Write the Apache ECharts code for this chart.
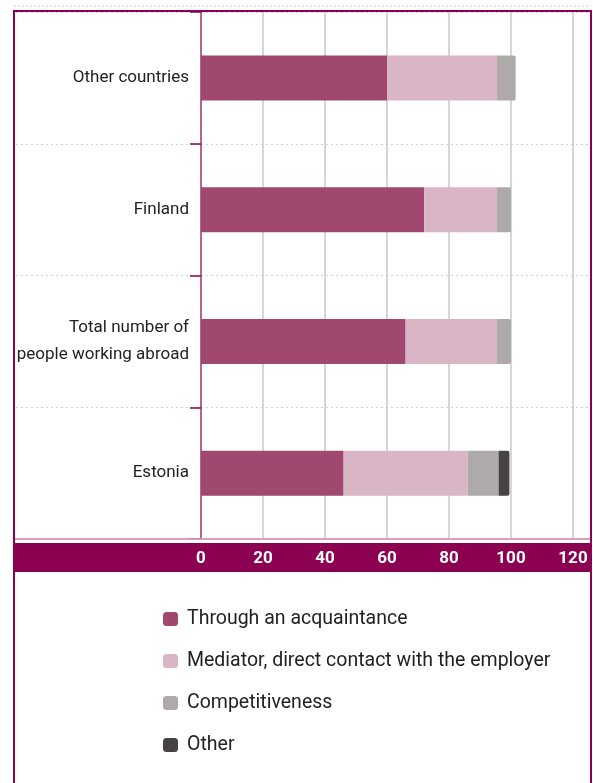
<!DOCTYPE html>
<html><head><meta charset="utf-8">
<script src="https://cdn.jsdelivr.net/npm/echarts@6/dist/echarts.min.js"></script>
<style>html,body{margin:0;padding:0;background:#fff}#c{width:593px;height:783px}</style>
</head><body><div id="c"></div>
<script>
const categories = ['Estonia', 'Total number of\npeople working abroad', 'Finland', 'Other countries'];
const seriesNames = ['Through an acquaintance', 'Mediator, direct contact with the employer', 'Competitiveness', 'Other'];
const acquaintance = [46, 66, 72, 60];
const mediator = [40, 29.5, 23.5, 35.5];
const competitiveness = [10, 4.5, 4.5, 6];
const other = [3.5, 0, 0, 0];
const xTicks = [0, 20, 40, 60, 80, 100, 120];

const colors = ['#a0486f', '#d9b5c6', '#aeaaaa', '#474344'];
const FONT = 'Roboto, sans-serif';
const PURPLE = '#8b0050';

const values = [acquaintance, mediator, competitiveness, other];
function lastIndex(ci) { let k = 0; values.forEach((v, i) => { if (v[ci] > 0) k = i; }); return k; }
const series = values.map((arr, si) => ({
  name: seriesNames[si], type: 'bar', stack: 'total', barWidth: 45,
  xAxisIndex: 0, yAxisIndex: 0,
  itemStyle: { color: colors[si] },
  data: arr.map((v, ci) => ({ value: v, itemStyle: { borderRadius: lastIndex(ci) === si ? [0, 2, 2, 0] : 0 } }))
}));

const chart = echarts.init(document.getElementById('c'), null, { renderer: 'canvas' });
chart.setOption({
  animation: false,
  textStyle: { fontFamily: FONT },
  grid: [
    { left: 201, right: 20, top: 12, bottom: 244, containLabel: false },
    { left: 16, right: 2, top: 12, bottom: 244, containLabel: false }
  ],
  xAxis: [
    { gridIndex: 0, type: 'value', min: xTicks[0], max: xTicks[xTicks.length - 1], interval: 20,
      axisLine: { show: false },
      axisTick: { show: false },
      axisLabel: { color: '#fff', fontWeight: 'bold', fontSize: 17, margin: 11, fontFamily: FONT },
      splitLine: { show: true, lineStyle: { color: '#c9c9c9', width: 1.5 } } },
    { gridIndex: 1, type: 'value', min: 0, max: 1, show: false }
  ],
  yAxis: [
    { gridIndex: 0, type: 'category', data: categories,
      axisLine: { show: true, lineStyle: { color: '#a8407a', width: 1.5 } },
      axisTick: { show: true, length: 11, lineStyle: { color: PURPLE, width: 1.5 } },
      axisLabel: { color: '#222', fontSize: 17, margin: 12, lineHeight: 27, fontFamily: FONT },
      splitLine: { show: false } },
    { gridIndex: 1, type: 'category', data: categories,
      axisLine: { show: false }, axisTick: { show: false }, axisLabel: { show: false },
      splitLine: { show: true, lineStyle: { color: '#cfcfcf', type: [2, 3], width: 1 } } }
  ],
  legend: {
    orient: 'vertical', left: 158, top: 604, itemGap: 22,
    itemWidth: 15, itemHeight: 14, icon: 'roundRect',
    textStyle: { color: '#222', fontSize: 19.5, fontFamily: FONT, padding: [0, 0, 0, 4] },
    data: seriesNames
  },
  graphic: [
    { type: 'line', z: 0, shape: { x1: 14, y1: 6, x2: 591, y2: 6 }, style: { stroke: '#d0d0d0', lineWidth: 1, lineDash: [2, 2] } },
    { type: 'rect', z: 50, shape: { x: 14, y: 538.2, width: 577, height: 2 }, style: { fill: '#fff' } },
    { type: 'line', z: 51, shape: { x1: 14, y1: 539, x2: 591, y2: 539 }, style: { stroke: '#b0407a', lineWidth: 1 } },
    { type: 'rect', z: -1, shape: { x: 15, y: 543, width: 576, height: 29 }, style: { fill: PURPLE } },
    { type: 'rect', z: 100, shape: { x: 14, y: 11, width: 577, height: 800 }, style: { fill: null, stroke: PURPLE, lineWidth: 2 } }
  ],
  series: series
});
</script></body></html>
